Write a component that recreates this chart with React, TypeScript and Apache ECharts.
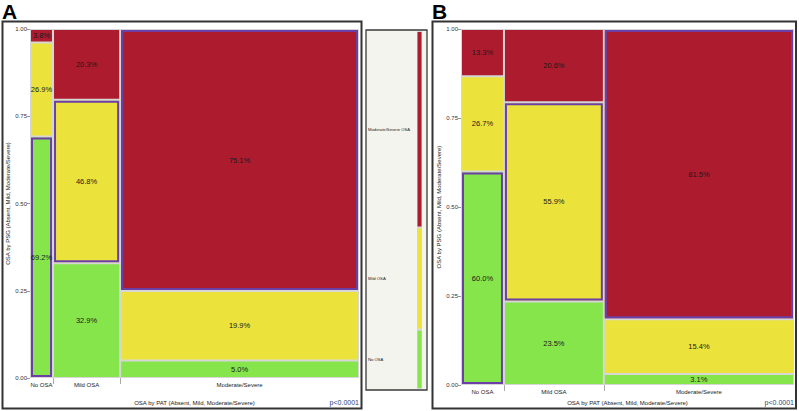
import React, { useEffect, useRef } from 'react';
import * as echarts from 'echarts';

const categories = ['No OSA', 'Mild OSA', 'Moderate/Severe'];
const psgLevels = ['No OSA', 'Mild OSA', 'Moderate/Severe OSA'];

// Panel A: column widths (share of PAT groups) and within-column percentages
const widthsA = [0.07, 0.204, 0.726];
const noA = [69.2, 32.9, 5.0];
const mildA = [26.9, 46.8, 19.9];
const sevA = [3.8, 20.3, 75.1];

// Panel B
const widthsB = [0.129, 0.3, 0.571];
const noB = [60.0, 23.5, 3.1];
const mildB = [26.7, 55.9, 15.4];
const sevB = [13.3, 20.6, 81.5];

// Legend bar shares (No, Mild, Moderate/Severe)
const legendShares = [0.166, 0.285, 0.549];

const xTitle = 'OSA by PAT (Absent, Mild, Moderate/Severe)';
const yTitle = 'OSA by PSG (Absent, Mild, Moderate/Severe)';
const pValue = 'p<0.0001';

const COLORS = ['#86e54a', '#ebe33b', '#ad1c2e'];
const FONT = 'Arial, "Liberation Sans", sans-serif';

function buildCells(widths: number[], no: number[], mild: number[], sev: number[]) {
  const out: number[][] = [];
  let x = 0;
  widths.forEach((w, i) => {
    const vals = [no[i], mild[i], sev[i]];
    let y = 0;
    vals.forEach((v, k) => {
      const y1 = k === 2 ? 1 : y + v / 100;
      out.push([x, x + w, y, y1, k, k === i ? 1 : 0, v]);
      y = y1;
    });
    x += w;
  });
  return out;
}

function centersOf(widths: number[]) {
  const c: number[] = [];
  let x = 0;
  widths.forEach((w) => {
    c.push(x + w / 2);
    x += w;
  });
  return c;
}

function boundariesOf(widths: number[]) {
  const b: number[] = [];
  let x = 0;
  widths.slice(0, -1).forEach((w) => {
    x += w;
    b.push(x);
  });
  return b;
}

function nameAt(values: number[], names: string[], v: number) {
  let best = 0;
  values.forEach((c, i) => {
    if (Math.abs(c - v) < Math.abs(values[best] - v)) best = i;
  });
  return names[best];
}

const cellRender = (params: any, api: any) => {
  const x0 = api.value(0), x1 = api.value(1), y0 = api.value(2), y1 = api.value(3);
  const k = api.value(4), hl = api.value(5), v = api.value(6);
  const p0 = api.coord([x0, y1]);
  const p1 = api.coord([x1, y0]);
  const inset = 1;
  const rx = p0[0] + inset, ry = p0[1] + inset;
  const rw = p1[0] - p0[0] - 2 * inset, rh = p1[1] - p0[1] - 2 * inset;
  const children: any[] = [
    { type: 'rect', shape: { x: rx, y: ry, width: rw, height: rh }, style: { fill: COLORS[k] } },
  ];
  if (hl) {
    children.push({
      type: 'rect',
      shape: { x: rx + 1, y: ry + 1, width: rw - 2, height: rh - 2 },
      style: { fill: 'none', stroke: '#6c3fa6', lineWidth: 2 },
    });
  }
  children.push({
    type: 'text',
    style: {
      text: v.toFixed(1) + '%',
      x: rx + rw / 2,
      y: ry + rh / 2,
      align: 'center',
      verticalAlign: 'middle',
      fontSize: 7.5,
      fontFamily: FONT,
      fill: '#1a1a1a',
    },
  });
  return { type: 'group', children };
};

const legendRender = (params: any, api: any) => {
  const y0 = api.value(0), y1 = api.value(1), k = api.value(2);
  const p0 = api.coord([0, y1]);
  const p1 = api.coord([1, y0]);
  return {
    type: 'rect',
    shape: { x: p0[0] + 0.5, y: p0[1] + 1, width: p1[0] - p0[0] - 1, height: p1[1] - p0[1] - 2 },
    style: { fill: COLORS[k] },
  };
};

function xAxisFor(gridIndex: number, widths: number[], nameGap: number) {
  const centers = centersOf(widths);
  return {
    gridIndex,
    type: 'value',
    min: 0,
    max: 1,
    axisLine: { show: false },
    splitLine: { show: false },
    axisTick: { show: true, customValues: boundariesOf(widths), length: 6, lineStyle: { color: '#aaaaaa' } },
    axisLabel: {
      customValues: centers,
      formatter: (v: number) => nameAt(centers, categories, v),
      fontSize: 6,
      fontFamily: FONT,
      color: '#222',
      margin: 4,
    },
    name: xTitle,
    nameLocation: 'middle',
    nameGap,
    nameTextStyle: { fontSize: 6, fontFamily: FONT, color: '#222' },
  };
}

function yAxisFor(gridIndex: number) {
  return {
    gridIndex,
    type: 'value',
    min: 0,
    max: 1,
    interval: 0.25,
    axisLine: { show: false },
    splitLine: { show: false },
    axisTick: { show: true, length: 3, lineStyle: { color: '#999' } },
    axisLabel: {
      formatter: (v: number) => v.toFixed(2),
      fontSize: 6,
      fontFamily: FONT,
      color: '#333',
      margin: 3,
    },
    name: yTitle,
    nameLocation: 'middle',
    nameGap: 18,
    nameRotate: 90,
    nameTextStyle: { fontSize: 6, fontFamily: FONT, color: '#222' },
  };
}

export default function App() {
  const ref = useRef<HTMLDivElement>(null);
  useEffect(() => {
    if (!ref.current) return;
    const chart = echarts.init(ref.current, undefined, { renderer: 'svg' });
    const cellsA = buildCells(widthsA, noA, mildA, sevA);
    const cellsB = buildCells(widthsB, noB, mildB, sevB);
    const legendData: number[][] = [];
    let acc = 0;
    legendShares.forEach((s, k) => {
      legendData.push([acc, acc + s, k]);
      acc += s;
    });
    const legendCenters = legendData.map((d) => (d[0] + d[1]) / 2);

    chart.setOption({
      animation: false,
      backgroundColor: '#ffffff',
      graphic: [
        { type: 'rect', z: -10, shape: { x: 366, y: 30, width: 61, height: 360 }, style: { fill: '#f4f4ef', stroke: '#3a3a3a', lineWidth: 1.3 } },
        { type: 'rect', z: 100, shape: { x: 2.5, y: 21.5, width: 359, height: 387 }, style: { fill: 'none', stroke: '#333', lineWidth: 2 } },
        { type: 'rect', z: 100, shape: { x: 432.5, y: 21.5, width: 363.5, height: 387 }, style: { fill: 'none', stroke: '#333', lineWidth: 2 } },
        { type: 'text', z: 100, x: 2, y: 1, style: { text: 'A', fontSize: 21, fontWeight: 'bold', fontFamily: FONT, fill: '#000' } },
        { type: 'text', z: 100, x: 432, y: 1, style: { text: 'B', fontSize: 21, fontWeight: 'bold', fontFamily: FONT, fill: '#000' } },
        { type: 'text', z: 100, x: 359, y: 402, style: { text: pValue, align: 'right', verticalAlign: 'middle', fontSize: 7, fontFamily: FONT, fill: '#2b3f7f' } },
        { type: 'text', z: 100, x: 794, y: 402, style: { text: pValue, align: 'right', verticalAlign: 'middle', fontSize: 7, fontFamily: FONT, fill: '#2b3f7f' } },
      ],
      grid: [
        { left: 30, top: 29, width: 329, height: 349, show: true, backgroundColor: '#d6d6d6', borderWidth: 0 },
        { left: 461, top: 29, width: 333, height: 359, show: true, backgroundColor: '#d6d6d6', borderWidth: 0 },
        { left: 417, top: 31, width: 5, height: 358, show: true, backgroundColor: '#d8d8d8', borderWidth: 0 },
      ],
      xAxis: [
        xAxisFor(0, widthsA, 22),
        xAxisFor(1, widthsB, 11),
        { gridIndex: 2, type: 'value', min: 0, max: 1, show: false },
      ],
      yAxis: [
        yAxisFor(0),
        yAxisFor(1),
        {
          gridIndex: 2,
          type: 'value',
          min: 0,
          max: 1,
          axisLine: { show: false },
          splitLine: { show: false },
          axisTick: { show: false },
          axisLabel: {
            customValues: legendCenters,
            formatter: (v: number) => nameAt(legendCenters, psgLevels, v),
            align: 'left',
            margin: 49,
            fontSize: 4.2,
            fontFamily: FONT,
            color: '#222',
          },
        },
      ],
      series: [
        { type: 'custom', xAxisIndex: 0, yAxisIndex: 0, renderItem: cellRender, data: cellsA, silent: true },
        { type: 'custom', xAxisIndex: 1, yAxisIndex: 1, renderItem: cellRender, data: cellsB, silent: true },
        { type: 'custom', xAxisIndex: 2, yAxisIndex: 2, renderItem: legendRender, data: legendData, silent: true },
      ],
    });
    return () => chart.dispose();
  }, []);
  return <div ref={ref} style={{ position: 'absolute', left: 0, top: 0, width: 799, height: 411 }} />;
}
